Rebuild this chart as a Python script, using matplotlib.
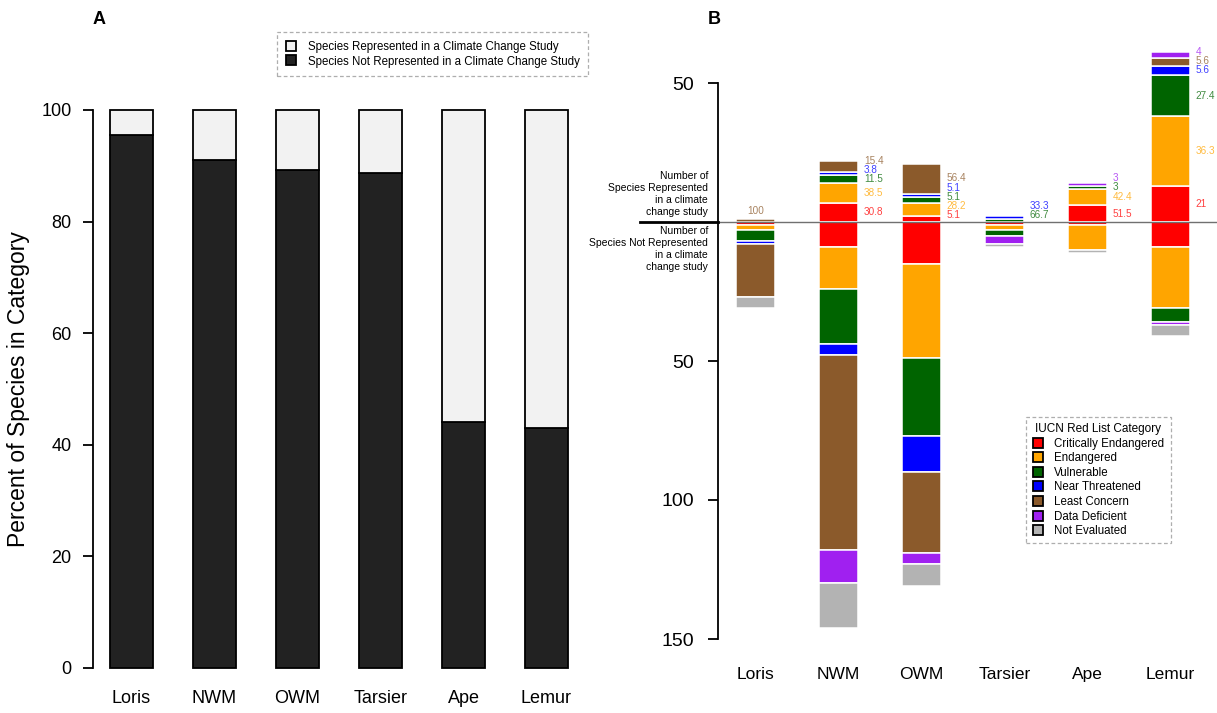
import numpy as np
import matplotlib
matplotlib.use("Agg")
import matplotlib.pyplot as plt
from matplotlib.lines import Line2D
from matplotlib.colors import to_rgba

plt.rcParams['font.family'] = ['Liberation Sans', 'DejaVu Sans']

# ---------------- data ----------------
groups = ["Loris", "NWM", "OWM", "Tarsier", "Ape", "Lemur"]

# Panel A: percent of species NOT represented in a climate change study
pct_not_rep = [95.5, 91.0, 89.2, 88.7, 44.1, 43.0]

iucn_names = ["Critically Endangered", "Endangered", "Vulnerable", "Near Threatened",
              "Least Concern", "Data Deficient", "Not Evaluated"]
iucn_colors = ["#FF0000", "#FFA500", "#006400", "#0000FF", "#8B5A2B", "#A020F0", "#B3B3B3"]

# Panel B: number of species represented (upwards), per IUCN category
rep_cr = [0, 7, 2, 0, 6, 13]
rep_en = [0, 7, 5, 0, 6, 25]
rep_vu = [0, 3, 2, 1, 1, 15]
rep_nt = [0, 1, 1, 1, 0, 3]
rep_lc = [1, 4, 11, 0, 0, 3]
rep_dd = [0, 0, 0, 0, 1, 2]
rep_ne = [0, 0, 0, 0, 0, 0]

# Panel B: number of species not represented (downwards)
not_cr = [1, 9, 15, 1, 1, 9]
not_en = [2, 15, 34, 2, 9, 22]
not_vu = [4, 20, 28, 2, 0, 5]
not_nt = [1, 4, 13, 0, 0, 0]
not_lc = [19, 70, 29, 0, 0, 0]
not_dd = [0, 12, 4, 3, 0, 1]
not_ne = [4, 16, 8, 1, 1, 4]

# Percent labels of the represented species
nan = np.nan
lab_cr = [nan, 30.8, 5.1, nan, 51.5, 21]
lab_en = [nan, 38.5, 28.2, nan, 42.4, 36.3]
lab_vu = [nan, 11.5, 5.1, 66.7, 3, 27.4]
lab_nt = [nan, 3.8, 5.1, 33.3, nan, 5.6]
lab_lc = [100, 15.4, 56.4, nan, nan, 5.6]
lab_dd = [nan, nan, nan, nan, 3, 4]
lab_ne = [nan, nan, nan, nan, nan, nan]

rep = [rep_cr, rep_en, rep_vu, rep_nt, rep_lc, rep_dd, rep_ne]
notrep = [not_cr, not_en, not_vu, not_nt, not_lc, not_dd, not_ne]
labs = [lab_cr, lab_en, lab_vu, lab_nt, lab_lc, lab_dd, lab_ne]

# ---------------- figure ----------------
W, H = 1217, 713
fig = plt.figure(figsize=(W / 100, H / 100), dpi=100)


def px_rect(x0, y0, x1, y1):
    return [x0 / W, 1 - y1 / H, (x1 - x0) / W, (y1 - y0) / H]


# ---------------- Panel A ----------------
axA = fig.add_axes(px_rect(93, 110, 600, 668))
x = np.arange(len(groups))
dark, light = "#222222", "#F2F2F2"
pct_rep = [100 - v for v in pct_not_rep]
axA.bar(x, pct_not_rep, width=0.52, color=dark, edgecolor="black", linewidth=1.3, clip_on=False)
axA.bar(x, pct_rep, bottom=pct_not_rep, width=0.52, color=light, edgecolor="black",
        linewidth=1.3, clip_on=False)
axA.set_ylim(0, 100)
axA.set_xlim((93 - 131.5) / 83, (600 - 131.5) / 83)
for s in ["top", "right", "bottom"]:
    axA.spines[s].set_visible(False)
axA.spines["left"].set_linewidth(1.3)
axA.set_yticks([0, 20, 40, 60, 80, 100])
axA.tick_params(axis="y", direction="out", length=7.5, width=1.3, labelsize=13, pad=8)
axA.set_xticks(x)
axA.set_xticklabels(groups)
axA.tick_params(axis="x", length=0, labelsize=13, pad=16)
axA.set_ylabel("Percent of Species in Category", fontsize=16.5, labelpad=8)

legA_handles = [
    Line2D([], [], marker="s", ls="none", markersize=7.5, markerfacecolor=light,
           markeredgecolor="black", markeredgewidth=1.3),
    Line2D([], [], marker="s", ls="none", markersize=7.5, markerfacecolor=dark,
           markeredgecolor="black", markeredgewidth=1.3),
]
legA = fig.legend(legA_handles,
                  ["Species Represented in a Climate Change Study",
                   "Species Not Represented in a Climate Change Study"],
                  loc="upper left", bbox_to_anchor=(277 / W, 1 - 32 / H),
                  fontsize=8.3, frameon=True, fancybox=False, handlelength=1.0,
                  handletextpad=0.9, borderpad=0.75, labelspacing=0.25, borderaxespad=0)
legA.get_frame().set_edgecolor("#9A9A9A")
legA.get_frame().set_linestyle((0, (3, 2)))
legA.get_frame().set_linewidth(0.9)

fig.text(93 / W, 1 - 20 / H, "A", fontsize=13, fontweight="bold", va="center", ha="left")

# ---------------- Panel B ----------------
zero_px, ppu = 222.0, 2.78
top_px, bot_px = 30, 660
axB = fig.add_axes(px_rect(718, top_px, W, bot_px))
axB.set_ylim((zero_px - bot_px) / ppu, (zero_px - top_px) / ppu)
axB.set_xlim((718 - 755.5) / 83, (W - 755.5) / 83)
bw = 0.47

for k in range(len(iucn_names)):
    up = np.array(rep[k], dtype=float)
    dn = np.array(notrep[k], dtype=float)
    bottom_up = np.sum([rep[j] for j in range(k)], axis=0) if k else np.zeros(len(groups))
    bottom_dn = np.sum([notrep[j] for j in range(k)], axis=0) if k else np.zeros(len(groups))
    m = up > 0
    axB.bar(x[m], up[m], bottom=bottom_up[m], width=bw, color=iucn_colors[k],
            edgecolor="white", linewidth=1.1, zorder=2)
    m = dn > 0
    axB.bar(x[m], -dn[m], bottom=-bottom_dn[m], width=bw, color=iucn_colors[k],
            edgecolor="white", linewidth=1.1, zorder=2)

axB.axhline(0, color="#707070", lw=1.0, zorder=3)
axB.plot([(640 - 755.5) / 83, (718 - 755.5) / 83], [0, 0], color="black", lw=2.0,
         clip_on=False, zorder=4)

for s in ["top", "right", "bottom"]:
    axB.spines[s].set_visible(False)
axB.spines["left"].set_bounds(-150, 50)
axB.spines["left"].set_linewidth(1.3)
axB.set_yticks([50, -50, -100, -150])
axB.set_yticklabels(["50", "50", "100", "150"])
axB.tick_params(axis="y", direction="out", length=7.5, width=1.3, labelsize=14, pad=10)
axB.set_xticks(x)
axB.set_xticklabels(groups)
axB.tick_params(axis="x", length=0, labelsize=12.5, pad=5)

# percent labels
gap = 3.3
min_y = 2.5
for i in range(len(groups)):
    cum = 0.0
    items = []
    for k in range(len(iucn_names)):
        h = rep[k][i]
        mid = cum + h / 2
        cum += h
        v = labs[k][i]
        if not np.isnan(v):
            items.append((mid, f"{v:g}", to_rgba(iucn_colors[k], 0.75)))
    if len(items) == 1:
        _, t, c = items[0]
        axB.text(x[i], cum + 1.0, t, color=c, fontsize=7.2, ha="center", va="bottom")
        continue
    prev = -1e9
    for mid, t, c in sorted(items):
        y = max(mid, min_y, prev + gap)
        prev = y
        axB.text(x[i] + bw / 2 + 0.07, y, t, color=c, fontsize=7.2, ha="left", va="center")

# side annotations
fig.text(708 / W, 1 - 217 / H, "Number of\nSpecies Represented\nin a climate\nchange study",
         ha="right", va="bottom", fontsize=7.5, linespacing=1.25)
fig.text(708 / W, 1 - 226 / H, "Number of\nSpecies Not Represented\nin a climate\nchange study",
         ha="right", va="top", fontsize=7.5, linespacing=1.25)

legB_handles = [Line2D([], [], marker="s", ls="none", markersize=7.5, markerfacecolor=c,
                       markeredgecolor="black", markeredgewidth=1.3) for c in iucn_colors]
legB = fig.legend(legB_handles, iucn_names, title="IUCN Red List Category",
                  loc="upper left", bbox_to_anchor=(1026 / W, 1 - 417 / H),
                  fontsize=8.3, title_fontsize=8.5, frameon=True, fancybox=False,
                  handlelength=1.0, handletextpad=0.9, borderpad=0.55, labelspacing=0.22,
                  borderaxespad=0)
legB.get_frame().set_edgecolor("#9A9A9A")
legB.get_frame().set_linestyle((0, (3, 2)))
legB.get_frame().set_linewidth(0.9)

fig.text(708 / W, 1 - 20 / H, "B", fontsize=13, fontweight="bold", va="center", ha="left")

fig.savefig("out.png", dpi=100, facecolor="white")
